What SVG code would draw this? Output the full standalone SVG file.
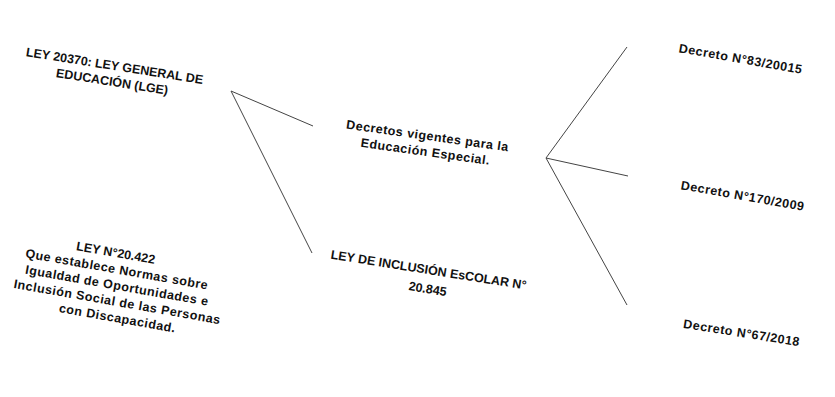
<svg xmlns="http://www.w3.org/2000/svg" width="835" height="397" viewBox="0 0 835 397">
<style>
.t{font-family:"Liberation Sans",Arial,sans-serif;font-weight:bold;font-size:12.5px;fill:#111;text-anchor:middle}
.l{letter-spacing:0.5px}
.c{stroke:#444;stroke-width:1;fill:none}
</style>
<rect width="835" height="397" fill="#fff"/>
<g id="connectors">
<line class="c" x1="231" y1="91" x2="313" y2="126"/>
<line class="c" x1="231" y1="91" x2="312" y2="253"/>
<line class="c" x1="546" y1="158" x2="627" y2="47"/>
<line class="c" x1="546" y1="158" x2="628" y2="176"/>
<line class="c" x1="546" y1="158" x2="627" y2="305"/>
</g>
<g id="lge" transform="translate(114,70) rotate(9)">
<text class="t" x="0" y="0">LEY 20370: LEY GENERAL DE</text>
<text class="t" x="0" y="16">EDUCACIÓN (LGE)</text>
</g>
<g id="ley20422" transform="translate(115,257) rotate(10)">
<text class="t" x="0" y="0">LEY N°20.422</text>
<text class="t l" x="4" y="16">Que establece Normas sobre</text>
<text class="t l" x="7" y="32">Igualdad de Oportunidades e</text>
<text class="t l" x="10" y="48">Inclusión Social de las Personas</text>
<text class="t l" x="13" y="64">con Discapacidad.</text>
</g>
<g id="decretos" transform="translate(427,140) rotate(8)">
<text class="t l" x="0" y="0">Decretos vigentes para la</text>
<text class="t l" x="0" y="16">Educación Especial.</text>
</g>
<g id="ley20845" transform="translate(428,274) rotate(9)">
<text class="t" x="0" y="0">LEY DE INCLUSIÓN EsCOLAR N°</text>
<text class="t" x="2" y="19">20.845</text>
</g>
<g id="d83" transform="translate(740,63) rotate(10)">
<text class="t l" x="0" y="0">Decreto N°83/20015</text>
</g>
<g id="d170" transform="translate(742,200) rotate(10)">
<text class="t l" x="0" y="0">Decreto N°170/2009</text>
</g>
<g id="d67" transform="translate(741,337) rotate(9)">
<text class="t l" x="0" y="0">Decreto N°67/2018</text>
</g>
</svg>
